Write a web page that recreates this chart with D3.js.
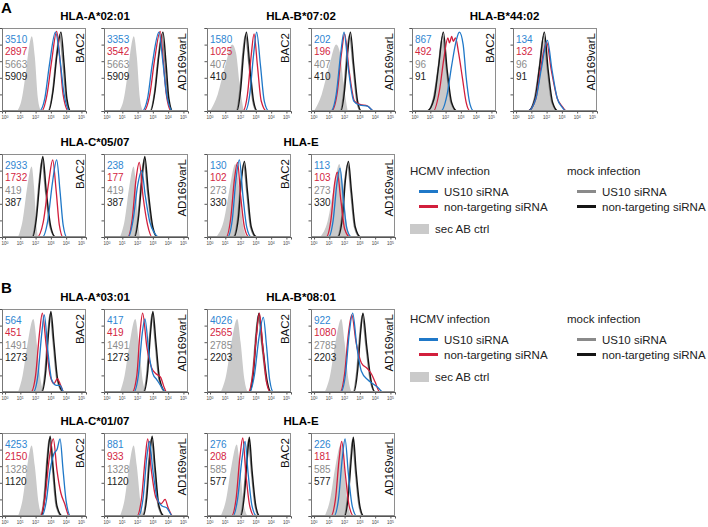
<!DOCTYPE html>
<html><head><meta charset="utf-8">
<script src="https://cdn.jsdelivr.net/npm/d3@7"></script>
<style>body{margin:0;background:#fff}svg{display:block;font-family:"Liberation Sans",Arial,sans-serif}</style>
</head><body><svg id="c" width="708" height="527"></svg>
<script>
// ---------- DATA ----------
const sections = ["A", "B"];
const alleles = ["HLA-A*02:01","HLA-B*07:02","HLA-B*44:02","HLA-C*05/07","HLA-E","HLA-A*03:01","HLA-B*08:01","HLA-C*01/07","HLA-E"];
const strains = ["BAC2","AD169varL"];
const xTickExp = [0,1,2,3,4,5];
const yTicks = [0,20,40,60,80,100];
// MFI values per panel (panel = allele*2 + strain)
const mfiUS10HCMV = [3510,3353,1580,202,867,134,2933,238,130,113, 564,417,4026,922,4253,881,276,226];
const mfiNTHCMV   = [2897,3542,1025,196,492,132,1732,177,102,103, 451,419,2565,1080,2150,933,208,181];
const mfiUS10Mock = [5663,5663,407,407,96,96,419,419,273,273, 1491,1491,2785,2785,1328,1328,585,585];
const mfiNTMock   = [5909,5909,410,410,91,91,387,387,330,330, 1273,1273,2203,2203,1120,1120,577,577];
// histogram outlines: [log10 intensity, % of max]
const histCtrl = [
 [[0.8,0],[1.1,15],[1.35,45],[1.6,80],[1.75,90],[1.95,65],[2.15,15],[2.35,0]],
 [[0.0,0],[0.5,20],[1.0,55],[1.45,80],[1.7,70],[1.95,30],[2.2,0]],
 [[0.8,0],[1.2,15],[1.5,50],[1.82,85],[2.05,55],[2.35,10],[2.7,0]],
 [[0.85,0],[1.15,20],[1.45,60],[1.74,85],[1.9,60],[2.05,15],[2.15,0]],
 [[0.4,0],[0.9,20],[1.3,60],[1.65,88],[1.9,60],[2.15,15],[2.4,0]],
 [[0.85,0],[1.15,20],[1.45,55],[1.85,88],[2.1,55],[2.35,12],[2.55,0]],
 [[0.7,0],[1.05,20],[1.4,60],[1.78,88],[2.0,60],[2.25,15],[2.45,0]],
 [[0.85,0],[1.15,20],[1.45,60],[1.74,85],[1.95,60],[2.2,15],[2.45,0]],
 [[0.7,0],[1.05,20],[1.4,60],[1.75,86],[1.95,60],[2.2,15],[2.45,0]]
];
const histUS10Mock = [
 [[2.8,0],[3.1,22],[3.35,65],[3.58,92],[3.78,60],[4.0,15],[4.25,0]],
 [[1.7,0],[1.95,25],[2.15,70],[2.32,92],[2.55,55],[2.8,12],[3.05,0]],
 [[0.8,0],[1.2,15],[1.5,50],[1.8,90],[2.05,50],[2.35,10],[2.75,0]],
 [[1.75,0],[2.0,20],[2.25,70],[2.42,93],[2.65,55],[2.95,12],[3.3,0]],
 [[1.5,0],[1.8,22],[2.0,65],[2.2,88],[2.4,55],[2.65,12],[3.0,0]],
 [[2.35,0],[2.6,22],[2.8,70],[2.95,94],[3.15,60],[3.4,15],[3.8,0]],
 [[2.55,0],[2.8,25],[3.0,70],[3.15,92],[3.4,55],[3.7,12],[4.0,0]],
 [[2.3,0],[2.55,22],[2.75,70],[2.9,93],[3.1,58],[3.35,12],[3.7,0]],
 [[1.95,0],[2.2,25],[2.4,72],[2.52,92],[2.7,55],[2.95,12],[3.2,0]]
];
const histNTMock = [
 [[2.85,0],[3.15,25],[3.4,68],[3.66,95],[3.86,58],[4.05,15],[4.3,0]],
 [[1.75,0],[2.0,25],[2.2,70],[2.38,95],[2.6,55],[2.85,12],[3.1,0]],
 [[0.8,0],[1.25,15],[1.55,55],[1.85,95],[2.1,50],[2.4,10],[2.75,0]],
 [[1.8,0],[2.05,22],[2.3,72],[2.47,97],[2.7,55],[3.0,12],[3.3,0]],
 [[1.55,0],[1.85,22],[2.05,68],[2.25,91],[2.45,55],[2.7,12],[3.05,0]],
 [[2.4,0],[2.65,22],[2.85,72],[3.0,97],[3.2,60],[3.45,15],[3.85,0]],
 [[2.6,0],[2.85,25],[3.05,72],[3.2,95],[3.45,55],[3.75,12],[4.0,0]],
 [[2.35,0],[2.6,22],[2.8,72],[2.95,96],[3.15,58],[3.4,12],[3.75,0]],
 [[2.0,0],[2.25,25],[2.45,72],[2.57,95],[2.75,55],[3.0,12],[3.25,0]]
];
const histUS10HCMV = [
 [[2.25,0],[2.6,15],[2.9,55],[3.3,95],[3.6,62],[3.85,22],[4.25,0]],
 [[2.3,0],[2.65,15],[2.95,55],[3.4,95],[3.65,60],[3.9,20],[4.3,0]],
 [[2.3,0],[2.6,20],[2.85,68],[3.05,95],[3.3,55],[3.55,12],[3.85,0]],
 [[1.1,0],[1.45,20],[1.75,70],[1.96,95],[2.25,50],[2.6,12],[3.0,7],[3.5,6],[3.9,0]],
 [[1.7,0],[2.1,20],[2.4,55],[2.7,85],[2.9,95],[3.15,80],[3.35,40],[3.6,8],[3.85,0]],
 [[0.8,0],[1.3,15],[1.65,50],[2.05,85],[2.35,50],[2.7,15],[3.0,5],[3.3,0]],
 [[2.45,0],[2.8,20],[3.1,65],[3.38,93],[3.6,55],[3.8,15],[4.05,0]],
 [[1.4,0],[1.7,20],[2.0,62],[2.27,80],[2.5,50],[2.8,18],[3.1,5],[3.4,0]],
 [[1.15,0],[1.45,20],[1.7,70],[1.92,93],[2.15,50],[2.4,12],[2.7,0]],
 [[0.95,0],[1.25,20],[1.5,65],[1.7,83],[1.92,45],[2.15,10],[2.45,0]],
 [[1.85,0],[2.15,20],[2.4,70],[2.57,93],[2.8,50],[3.05,15],[3.35,8],[3.6,8],[3.85,0]],
 [[1.75,0],[2.05,20],[2.3,70],[2.48,88],[2.75,45],[3.0,22],[3.25,15],[3.5,8],[3.85,0]],
 [[2.6,0],[2.9,20],[3.2,65],[3.49,90],[3.7,55],[3.9,15],[4.15,0]],
 [[1.75,0],[2.05,20],[2.3,70],[2.53,95],[2.8,55],[3.1,25],[3.5,15],[3.85,10],[4.2,5],[4.5,0]],
 [[2.4,0],[2.7,18],[2.95,55],[3.2,75],[3.4,80],[3.6,93],[3.8,55],[4.0,18],[4.3,0]],
 [[2.05,0],[2.35,20],[2.6,70],[2.77,90],[3.0,55],[3.3,20],[3.6,12],[3.9,10],[4.3,0]],
 [[1.5,0],[1.8,20],[2.1,70],[2.29,90],[2.5,50],[2.75,12],[3.05,0]],
 [[1.3,0],[1.6,20],[1.85,70],[2.03,93],[2.25,50],[2.5,12],[2.8,0]]
];
const histNTHCMV = [
 [[2.4,0],[2.75,20],[3.05,60],[3.38,96],[3.6,60],[3.8,20],[4.15,0]],
 [[2.4,0],[2.8,20],[3.1,60],[3.48,96],[3.68,60],[3.88,20],[4.2,0]],
 [[2.15,0],[2.45,20],[2.7,68],[2.88,93],[3.1,55],[3.35,12],[3.7,0]],
 [[1.15,0],[1.5,20],[1.8,70],[2.0,93],[2.3,48],[2.65,12],[3.0,8],[3.5,6],[3.9,0]],
 [[1.2,0],[1.6,25],[1.9,65],[2.15,88],[2.25,82],[2.4,90],[2.5,84],[2.65,88],[2.85,70],[3.1,40],[3.35,10],[3.6,0]],
 [[0.8,0],[1.3,15],[1.6,50],[2.0,83],[2.3,50],[2.7,15],[3.0,6],[3.3,0]],
 [[2.1,0],[2.5,18],[2.85,65],[3.12,93],[3.35,55],[3.55,15],[3.8,0]],
 [[1.35,0],[1.65,22],[1.9,70],[2.11,90],[2.35,50],[2.65,15],[2.95,0]],
 [[1.05,0],[1.35,22],[1.6,70],[1.8,90],[2.0,50],[2.25,12],[2.55,0]],
 [[0.8,0],[1.1,20],[1.35,65],[1.52,78],[1.75,45],[2.0,10],[2.35,0]],
 [[1.7,0],[2.0,20],[2.25,70],[2.44,95],[2.7,55],[2.95,20],[3.2,10],[3.42,16],[3.6,10],[3.85,0]],
 [[1.65,0],[1.95,20],[2.15,70],[2.33,95],[2.6,55],[2.9,30],[3.2,22],[3.5,18],[3.75,5],[3.9,0]],
 [[2.5,0],[2.8,22],[3.05,70],[3.23,95],[3.45,55],[3.7,12],[3.95,0]],
 [[1.7,0],[2.0,22],[2.25,70],[2.47,93],[2.75,60],[3.1,35],[3.5,28],[3.75,22],[4.0,12],[4.3,0]],
 [[2.3,0],[2.6,20],[2.9,70],[3.16,93],[3.4,55],[3.65,28],[3.9,15],[4.2,0]],
 [[1.95,0],[2.25,20],[2.5,70],[2.66,93],[2.9,55],[3.2,22],[3.55,15],[3.8,20],[4.0,10],[4.3,0]],
 [[1.4,0],[1.7,20],[1.95,70],[2.14,94],[2.35,50],[2.6,12],[2.9,0]],
 [[1.1,0],[1.4,20],[1.65,70],[1.81,90],[2.05,50],[2.3,12],[2.6,0]]
];
const legendHCMV = ["US10 siRNA","non-targeting siRNA"];
const legendMock = ["US10 siRNA","non-targeting siRNA"];

// ---------- STYLE / LAYOUT ----------
const C = {blue:"#1f78c8", red:"#d21f3c", grey:"#8a8a8a", black:"#151515", fill:"#cacaca",
           tblue:"#2f86d2", tred:"#d3263f", tgrey:"#8c8c8c", tblack:"#222"};
const rowTop = [28,154,309,433], PH = 83, PW = 84;
const colLeft = [2,104,207,311,412,513];
// allele index -> [row, first column]
const alleleLayout = [[0,0],[0,2],[0,4],[1,0],[1,2],[2,0],[2,2],[3,0],[3,2]];
const svg = d3.select("#c");
const font = '"Liberation Sans",Arial,sans-serif';

svg.append("text").attr("x",1).attr("y",13).attr("font-size",15).attr("font-weight","bold").text(sections[0]);
svg.append("text").attr("x",1).attr("y",293).attr("font-size",15).attr("font-weight","bold").text(sections[1]);

alleles.forEach((al, ai) => {
  const [row, c0] = alleleLayout[ai];
  const top = rowTop[row];
  const l0 = colLeft[c0], l1 = colLeft[c0+1];
  svg.append("text").attr("x",(l0 + l1 + PW)/2).attr("y",top-8).attr("text-anchor","middle")
     .attr("font-size",11.5).attr("font-weight","bold").text(al);
  strains.forEach((st, si) => {
    const p = ai*2 + si;
    const L = colLeft[c0+si];
    const x = d3.scaleLog().domain([Math.pow(10,-0.2), Math.pow(10,5.3)]).range([L, L+PW]);
    const y = d3.scaleLinear().domain([0,100]).range([top+PH, top]);
    const g = svg.append("g");
    const ext = pts => [[-0.2,0], ...pts, [5.3,0]];
    const line = d3.line().x(d=>x(Math.pow(10,d[0]))).y(d=>y(d[1])).curve(d3.curveMonotoneX);
    const area = d3.area().x(d=>x(Math.pow(10,d[0]))).y0(y(0)).y1(d=>y(d[1])).curve(d3.curveMonotoneX);
    g.append("path").attr("d",area(histCtrl[ai])).attr("fill",C.fill);
    g.append("path").attr("d",line(ext(histUS10Mock[ai]))).attr("fill","none").attr("stroke",C.grey).attr("stroke-width",1.4);
    g.append("path").attr("d",line(ext(histNTMock[ai]))).attr("fill","none").attr("stroke",C.black).attr("stroke-width",1.4);
    g.append("path").attr("d",line(ext(histNTHCMV[p]))).attr("fill","none").attr("stroke",C.red).attr("stroke-width",1.3);
    g.append("path").attr("d",line(ext(histUS10HCMV[p]))).attr("fill","none").attr("stroke",C.blue).attr("stroke-width",1.3);
    // frame
    g.append("rect").attr("x",L+0.5).attr("y",top+0.5).attr("width",PW-1).attr("height",PH-1)
      .attr("fill","none").attr("stroke","#8e8e8e").attr("stroke-width",1);
    // axes ticks
    const xa = d3.axisBottom(x).tickValues(xTickExp.map(e=>Math.pow(10,e))).tickSize(2.5).tickFormat("");
    const ax = g.append("g").attr("transform",`translate(0,${top+PH})`).call(xa);
    ax.select(".domain").attr("stroke","#555");
    ax.selectAll(".tick line").attr("stroke","#555");
    const ya = d3.axisLeft(y).tickValues(yTicks).tickSize(2.5).tickFormat("");
    const ay = g.append("g").attr("transform",`translate(${L},0)`).call(ya);
    ay.select(".domain").attr("stroke","#777");
    ay.selectAll(".tick line").attr("stroke","#555");
    xTickExp.forEach(e => {
      const t = g.append("text").attr("x",x(Math.pow(10,e))).attr("y",top+PH+8).attr("text-anchor","middle")
        .attr("font-size",4.5).attr("fill","#444");
      t.append("tspan").text("10");
      t.append("tspan").attr("dy",-1.5).attr("font-size",3.5).text(e);
    });
    // MFI numbers
    const vals = [[mfiUS10HCMV[p],C.tblue],[mfiNTHCMV[p],C.tred],[mfiUS10Mock[p],C.tgrey],[mfiNTMock[p],C.tblack]];
    vals.forEach((v,i)=>{
      g.append("text").attr("x",L+3).attr("y",top+15+i*12.3).attr("font-size",10).attr("fill",v[1]).text(v[0]);
    });
    // strain label
    g.append("text").attr("transform",`translate(${L+82},${top+5}) rotate(-90)`).attr("text-anchor","end")
      .attr("font-size",11.5).attr("fill","#111").text(st);
  });
});

// legends
function legend(y0){
  const g = svg.append("g").attr("font-size",11.5).attr("fill","#222");
  g.append("text").attr("x",410).attr("y",y0).text("HCMV infection");
  g.append("text").attr("x",567).attr("y",y0).text("mock infection");
  const cols = [[C.blue,C.red],[C.grey,C.black]];
  [legendHCMV, legendMock].forEach((labs,ci)=>{
    const lx = ci===0 ? 419 : 577;
    labs.forEach((lab,i)=>{
      const yy = y0 + 16.5 + i*15;
      g.append("line").attr("x1",lx).attr("x2",lx+19).attr("y1",yy).attr("y2",yy)
        .attr("stroke",cols[ci][i]).attr("stroke-width",3);
      g.append("text").attr("x",lx+25).attr("y",yy+4).text(lab);
    });
  });
  g.append("rect").attr("x",410).attr("y",y0+49).attr("width",19).attr("height",10).attr("fill",C.fill);
  g.append("text").attr("x",435).attr("y",y0+58).text("sec AB ctrl");
}
legend(175);
legend(323);
</script></body></html>
